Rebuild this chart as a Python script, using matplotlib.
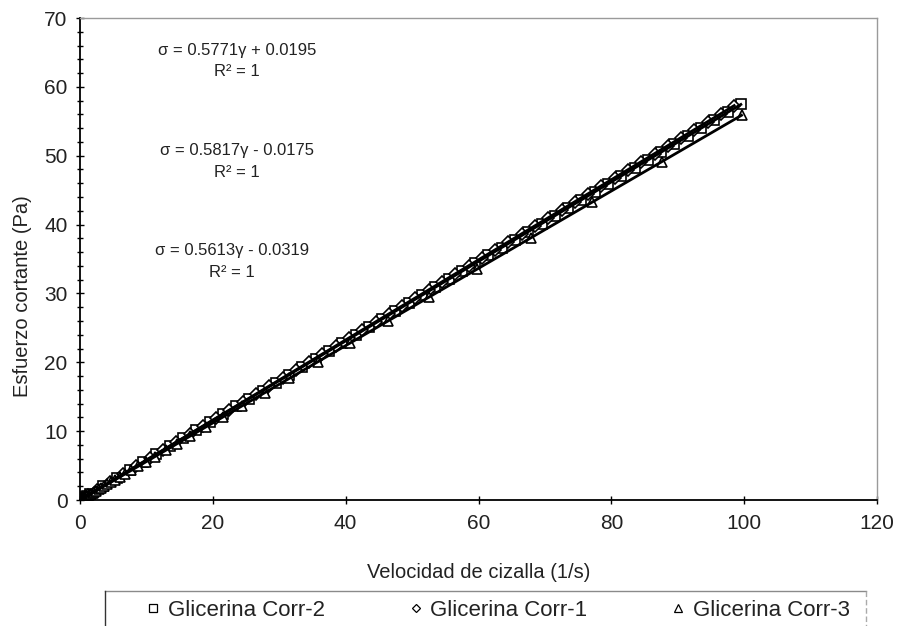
import numpy as np
import matplotlib
matplotlib.use("Agg")
import matplotlib.pyplot as plt
from matplotlib.ticker import MultipleLocator
from matplotlib.lines import Line2D

plt.rcParams['font.family'] = ['Liberation Sans', 'DejaVu Sans']

# Glicerina Corr-2 (squares)
x_corr2 = [0.1, 0.3, 0.6, 1.0, 1.5, 3.5, 5.5, 7.5, 9.5, 11.5, 13.5, 15.5, 17.5, 19.5,
           21.5, 23.5, 25.5, 27.5, 29.5, 31.5, 33.5, 35.5, 37.5, 39.5, 41.5, 43.5,
           45.5, 47.5, 49.5, 51.5, 53.5, 55.5, 57.5, 59.5, 61.5, 63.5, 65.5, 67.5,
           69.5, 71.5, 73.5, 75.5, 77.5, 79.5, 81.5, 83.5, 85.5, 87.5, 89.5, 91.5,
           93.5, 95.5, 97.5, 99.5]
y_corr2 = [0.08, 0.19, 0.37, 0.60, 0.89, 2.04, 3.19, 4.35, 5.50, 6.66, 7.81, 8.96, 10.12, 11.27,
           12.43, 13.58, 14.74, 15.89, 17.04, 18.20, 19.35, 20.51, 21.66, 22.82, 23.97, 25.12,
           26.28, 27.43, 28.59, 29.74, 30.89, 32.05, 33.20, 34.36, 35.51, 36.67, 37.82, 38.97,
           40.13, 41.28, 42.44, 43.59, 44.75, 45.90, 47.05, 48.21, 49.36, 50.52, 51.67, 52.83,
           53.98, 55.13, 56.29, 57.44]

# Glicerina Corr-1 (diamonds)
x_corr1 = [0.2, 0.5, 0.8, 1.2, 2.5, 4.5, 6.5, 8.5, 10.5, 12.5, 14.5, 16.5, 18.5, 20.5,
           22.5, 24.5, 26.5, 28.5, 30.5, 32.5, 34.5, 36.5, 38.5, 40.5, 42.5, 44.5,
           46.5, 48.5, 50.5, 52.5, 54.5, 56.5, 58.5, 60.5, 62.5, 64.5, 66.5, 68.5,
           70.5, 72.5, 74.5, 76.5, 78.5, 80.5, 82.5, 84.5, 86.5, 88.5, 90.5, 92.5,
           94.5, 96.5, 98.5]
y_corr1 = [0.10, 0.27, 0.45, 0.68, 1.44, 2.60, 3.76, 4.93, 6.09, 7.25, 8.42, 9.58, 10.74, 11.91,
           13.07, 14.24, 15.40, 16.56, 17.73, 18.89, 20.05, 21.22, 22.38, 23.54, 24.71, 25.87,
           27.03, 28.20, 29.36, 30.52, 31.69, 32.85, 34.01, 35.18, 36.34, 37.50, 38.67, 39.83,
           40.99, 42.16, 43.32, 44.48, 45.65, 46.81, 47.97, 49.14, 50.30, 51.46, 52.63, 53.79,
           54.95, 56.12, 57.28]

# Glicerina Corr-3 (triangles)
x_corr3 = [0.10, 0.11, 0.13, 0.14, 0.16, 0.19, 0.21, 0.24, 0.27, 0.31, 0.35, 0.40, 0.46,
           0.52, 0.59, 0.67, 0.77, 0.87, 1.0, 1.1, 1.3, 1.5, 1.7, 1.9, 2.1, 2.4, 2.8, 3.2,
           3.6, 4.1, 4.6, 5.3, 6.0, 6.8, 7.7, 8.8, 10.0, 11.3, 12.9, 14.6, 16.6, 18.9,
           21.5, 24.4, 27.8, 31.5, 35.8, 40.7, 46.3, 52.6, 59.7, 67.9, 77.1, 87.6, 99.6]
y_corr3 = [0.02, 0.03, 0.04, 0.05, 0.06, 0.07, 0.09, 0.10, 0.12, 0.14, 0.16, 0.19, 0.23,
           0.26, 0.30, 0.34, 0.40, 0.46, 0.53, 0.59, 0.70, 0.81, 0.92, 1.03, 1.15, 1.32, 1.54, 1.76,
           1.99, 2.27, 2.55, 2.94, 3.34, 3.78, 4.29, 4.91, 5.58, 6.31, 7.21, 8.16, 9.29, 10.58,
           12.04, 13.66, 15.57, 17.65, 20.06, 22.81, 25.96, 29.49, 33.48, 38.08, 43.24, 49.14, 55.87]

series_labels = ['Glicerina Corr-2', 'Glicerina Corr-1', 'Glicerina Corr-3']

eq_texts = ["σ = 0.5771γ + 0.0195\nR² = 1",
            "σ = 0.5817γ - 0.0175\nR² = 1",
            "σ = 0.5613γ - 0.0319\nR² = 1"]
eq_pos = [(23.6, 63.75), (23.6, 49.16), (22.9, 34.64)]

x_ticks = [0, 20, 40, 60, 80, 100, 120]
y_ticks = [0, 10, 20, 30, 40, 50, 60, 70]

W, H = 901, 626
fig = plt.figure(figsize=(W/100, H/100), dpi=100)
ax = fig.add_axes([80/W, 1-500/H, (877-80)/W, (500-18)/H])

series = [
    (x_corr2, y_corr2, 's', 7.0),
    (x_corr1, y_corr1, 'D', 6.0),
    (x_corr3, y_corr3, '^', 7.5),
]
for (xs, ys, m, ms), lab in zip(series, series_labels):
    xs = np.asarray(xs); ys = np.asarray(ys)
    p = np.polyfit(xs, ys, 1)
    xl = np.array([xs.min(), xs.max()])
    ax.plot(xl, np.polyval(p, xl), color='black', lw=2.0, zorder=3)
    ax.plot(xs, ys, linestyle='none', marker=m, ms=ms, mfc='white',
            mec='black', mew=1.2, label=lab, zorder=2)

for t, (xp, yp) in zip(eq_texts, eq_pos):
    ax.text(xp, yp, t, ha='center', va='center', fontsize=12, color='#222222',
            linespacing=1.53)

ax.set_xlim(0, 120)
ax.set_ylim(0, 70)
ax.set_xticks(x_ticks)
ax.set_yticks(y_ticks)
ax.yaxis.set_minor_locator(MultipleLocator(2))
ax.tick_params(axis='both', which='major', direction='inout', length=6, width=1,
               labelsize=15, colors='black', labelcolor='#222222')
ax.tick_params(axis='y', which='minor', direction='inout', length=5, width=1)
ax.tick_params(axis='x', pad=7)
ax.tick_params(axis='y', pad=6)

for s in ['top', 'right']:
    ax.spines[s].set_color('#9a9a9a')
    ax.spines[s].set_linewidth(1.0)
for s in ['left', 'bottom']:
    ax.spines[s].set_color('black')
    ax.spines[s].set_linewidth(1.3)

xl_ = ax.set_xlabel('Velocidad de cizalla (1/s)', fontsize=14.5, color='#222222')
yl_ = ax.set_ylabel('Esfuerzo cortante (Pa)', fontsize=14.5, color='#222222')
ax.xaxis.set_label_coords(0.5, -(572-500)/482)
ax.yaxis.set_label_coords((23-80)/797, (500-296)/482)
xl_.set_va('center')
yl_.set_va('center')
yl_.set_ha('center')

# legend box (bottom edge falls outside the picture)
fig.add_artist(Line2D([105/W, 866/W], [1-591/H, 1-591/H], color='#8a8a8a', lw=1.0))
fig.add_artist(Line2D([105/W, 105/W], [1-591/H, 0], color='#333333', lw=1.0))
fig.add_artist(Line2D([866/W, 866/W], [1-591/H, 0], color='#aaaaaa', lw=1.0, ls=(0, (4, 2))))

leg_markers = [('s', 5.5), ('D', 4.5), ('^', 5.5)]
leg_handles = [Line2D([], [], linestyle='none', marker=m, ms=ms, mfc='white', mec='black',
                      mew=0.9, label=lab) for (m, ms), lab in zip(leg_markers, series_labels)]
leg = fig.legend(handles=leg_handles, loc='center left',
                 bbox_to_anchor=(142/W, 1-610/H), ncol=3, fontsize=16, frameon=False,
                 handletextpad=0.15, handlelength=1.0, columnspacing=3.6, borderpad=0,
                 borderaxespad=0)
for t in leg.get_texts():
    t.set_color('#222222')

fig.savefig('out.png', dpi=100)
